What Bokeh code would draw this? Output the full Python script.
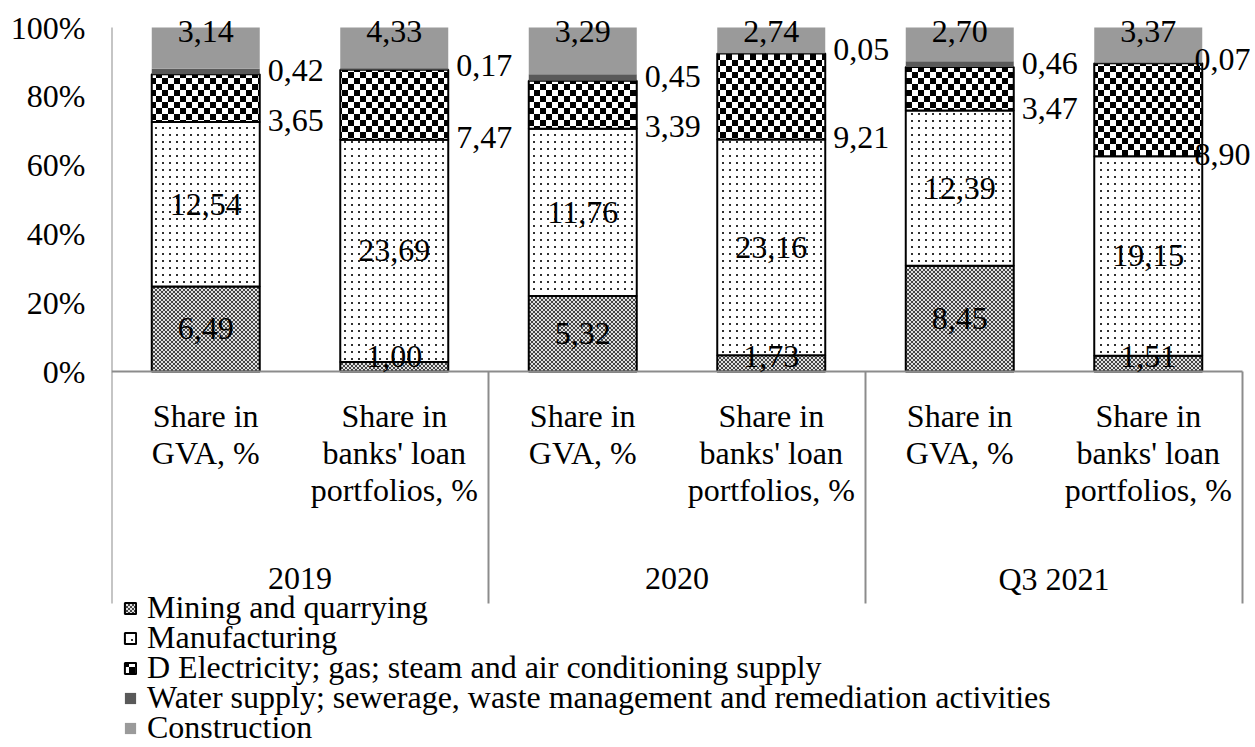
import zlib, struct, base64
from bokeh.plotting import figure
from bokeh.models import (ColumnDataSource, Range1d, FixedTicker, PrintfTickFormatter,
                          Legend, LegendItem, ImageURLTexture)
from bokeh.core.properties import value
from bokeh.embed import file_html
from bokeh.resources import INLINE

# ---------------- data ----------------
groups = ["2019", "2020", "Q3 2021"]
bar_labels = ["Share in\nGVA, %", "Share in\nbanks' loan\nportfolios, %"]
series_names = [
    "Mining and quarrying",
    "Manufacturing",
    "D Electricity; gas; steam and air conditioning supply",
    "Water supply; sewerage, waste management and remediation activities",
    "Construction",
]
mining = [6.49, 1.00, 5.32, 1.73, 8.45, 1.51]
manufacturing = [12.54, 23.69, 11.76, 23.16, 12.39, 19.15]
electricity = [3.65, 7.47, 3.39, 9.21, 3.47, 8.90]
water = [0.42, 0.17, 0.45, 0.05, 0.46, 0.07]
construction = [3.14, 4.33, 3.29, 2.74, 2.70, 3.37]
y_ticks = [0, 20, 40, 60, 80, 100]

# ---------------- layout constants ----------------
FONT = "Liberation Serif, Times New Roman, Tinos, serif"
FS_PX = 32
FS = f"{FS_PX}px"
W, H = 1250, 745
Y100_PAGE, Y0_PAGE = 27, 371
FRAME_TOP_PAGE, FRAME_BOTTOM_PAGE = 8, H
FRAME_LEFT_PAGE, FRAME_RIGHT_PAGE = 111, W
X6_PAGE = 1242
PPY = (Y0_PAGE - Y100_PAGE) / 100.0
n_bars = len(mining)
PPX = (X6_PAGE - FRAME_LEFT_PAGE) / n_bars
x_end = (FRAME_RIGHT_PAGE - FRAME_LEFT_PAGE) / PPX
y_end = 100 + (Y100_PAGE - FRAME_TOP_PAGE) / PPY
y_start = -(FRAME_BOTTOM_PAGE - Y0_PAGE) / PPY
BAR_W = 108 / PPX
CAT_BOTTOM = -(603 - Y0_PAGE) / PPY
LEGEND_FIRST, LEGEND_STEP, LEGEND_HALF = 608, 30, 18


def fmt(v):
    return f"{v:.2f}".replace(".", ",")


def png_data_url(rows):
    h, w = len(rows), len(rows[0])
    raw = b"".join(b"\x00" + bytes(r) for r in rows)

    def chunk(t, d):
        return struct.pack(">I", len(d)) + t + d + struct.pack(">I", zlib.crc32(t + d) & 0xffffffff)

    png = (b"\x89PNG\r\n\x1a\n" + chunk(b"IHDR", struct.pack(">IIBBBBB", w, h, 8, 0, 0, 0, 0))
           + chunk(b"IDAT", zlib.compress(raw)) + chunk(b"IEND", b""))
    return "data:image/png;base64," + base64.b64encode(png).decode()


checker_rows = [[0 if ((r // 6) + (c // 6)) % 2 == 0 else 255 for c in range(12)] for r in range(12)]
dots_rows = [[48 if (r in (1, 2) and c in (1, 2)) else 255 for c in range(7)] for r in range(7)]
mesh_rows = [[225 if (r == c or r + c == 3) else 70 for c in range(4)] for r in range(4)]
textures = {
    "mesh": ImageURLTexture(url=png_data_url(mesh_rows)),
    "dots": ImageURLTexture(url=png_data_url(dots_rows)),
    "checker": ImageURLTexture(url=png_data_url(checker_rows)),
}

series = [mining, manufacturing, electricity, water, construction]
totals = [sum(s[i] for s in series) for i in range(n_bars)]
shares = [[s[i] / totals[i] * 100 for i in range(n_bars)] for s in series]
xs = [i + 0.5 for i in range(n_bars)]

p = figure(width=W, height=H, output_backend="svg", toolbar_location=None, title=None,
           x_axis_location=None, x_range=Range1d(0, x_end), y_range=Range1d(y_start, y_end),
           min_border_left=FRAME_LEFT_PAGE, min_border_right=0,
           min_border_top=FRAME_TOP_PAGE, min_border_bottom=0)
p.grid.visible = False
p.outline_line_color = None
p.background_fill_color = "white"

ax = p.yaxis[0]
ax.ticker = FixedTicker(ticks=y_ticks)
ax.formatter = PrintfTickFormatter(format="%d%%")
ax.axis_line_color = None
ax.major_tick_line_color = None
ax.minor_tick_line_color = None
ax.major_tick_out = 0
ax.major_tick_in = 0
ax.major_label_standoff = 26
ax.major_label_text_font = FONT
ax.major_label_text_font_size = FS
ax.major_label_text_color = "black"

styles = [
    dict(fill="#8a8a8a", line="black", hatch="mesh"),
    dict(fill="white", line="black", hatch="dots"),
    dict(fill="white", line="black", hatch="checker"),
    dict(fill="#595959", line=None, hatch=None),
    dict(fill="#9a9a9a", line=None, hatch=None),
]

renderers = []
cum = [0.0] * n_bars
bounds = []
for k, sh in enumerate(shares):
    bottoms = cum[:]
    tops = [cum[i] + sh[i] for i in range(n_bars)]
    cum = tops
    bounds.append((bottoms, tops))
    st = styles[k]
    data = dict(x=xs, bottom=bottoms, top=tops)
    kw = {}
    if st["hatch"]:
        data["hp"] = [st["hatch"]] * n_bars
        kw = dict(hatch_pattern="hp", hatch_extra=textures)
    src = ColumnDataSource(data)
    r = p.vbar(x="x", bottom="bottom", top="top", width=BAR_W, source=src,
               fill_color=st["fill"], line_color=st["line"], line_width=2, **kw)
    renderers.append(r)

# axis / category lines
gray = "#8c8c8c"
n_per_group = len(bar_labels)
edges = [g * n_per_group for g in range(len(groups) + 1)]
p.segment(x0=[0], y0=[100], x1=[0], y1=[0], line_color=gray, line_width=2)
p.segment(x0=edges, y0=[0] * len(edges), x1=edges, y1=[CAT_BOTTOM] * len(edges),
          line_color=gray, line_width=2)
p.segment(x0=[0], y0=[0], x1=[n_bars], y1=[0], line_color=gray, line_width=2)

tkw = dict(text_font=value(FONT), text_font_size=FS, text_color="black")

# centre labels: mining (kept above the axis), manufacturing, construction near the top
clamp = 15 / PPY
mb, mt = bounds[0]
p.text(x=xs, y=[max((mb[i] + mt[i]) / 2, clamp) for i in range(n_bars)],
       text=[fmt(v) for v in mining], text_align="center", text_baseline="middle", **tkw)
fb, ft = bounds[1]
p.text(x=xs, y=[(fb[i] + ft[i]) / 2 for i in range(n_bars)],
       text=[fmt(v) for v in manufacturing], text_align="center", text_baseline="middle", **tkw)
cb, ct = bounds[4]
p.text(x=xs, y=ct, text=[fmt(v) for v in construction], y_offset=4,
       text_align="center", text_baseline="middle", **tkw)

# right-side labels (electricity at its base, water at its base)
lab_w = 1.75 * FS_PX / PPX
gap = 8 / PPX
for vals, ys, dy in ((electricity, bounds[2][0], -2), (water, bounds[3][0], -4)):
    lx, ly, lt, rx, ry, rt = [], [], [], [], [], []
    for i in range(n_bars):
        x_l = xs[i] + BAR_W / 2 + gap
        if x_l + lab_w > x_end:
            rx.append(x_end); ry.append(ys[i]); rt.append(fmt(vals[i]))
        else:
            lx.append(x_l); ly.append(ys[i]); lt.append(fmt(vals[i]))
    p.text(x=lx, y=ly, text=lt, text_align="left", text_baseline="middle", y_offset=dy, **tkw)
    if rx:
        p.text(x=rx, y=ry, text=rt, text_align="right", text_baseline="middle", y_offset=dy, **tkw)

# category labels
sub_text = [bar_labels[i % n_per_group] for i in range(n_bars)]
p.text(x=xs, y=[0] * n_bars, text=sub_text, y_offset=26, text_align="center",
       text_baseline="top", text_line_height=1.03, **tkw)
gx = [(edges[g] + edges[g + 1]) / 2 for g in range(len(groups))]
p.text(x=gx, y=[0] * len(groups), text=groups, y_offset=207, text_align="center",
       text_baseline="middle", **tkw)

# legend: one entry per row, rows 30px apart
for k, (name, r) in enumerate(zip(series_names, renderers)):
    centre = LEGEND_FIRST + k * LEGEND_STEP
    lg = Legend(items=[LegendItem(label=name, renderers=[r])],
                location=(12, FRAME_BOTTOM_PAGE - centre - LEGEND_HALF), orientation="vertical",
                label_text_font=FONT, label_text_font_size=FS, label_text_color="black",
                glyph_width=14, glyph_height=14, label_standoff=10, label_height=20,
                spacing=0, padding=0, margin=0, border_line_color=None,
                background_fill_alpha=0)
    p.add_layout(lg)

open("out.html", "w").write(file_html(p, INLINE))
